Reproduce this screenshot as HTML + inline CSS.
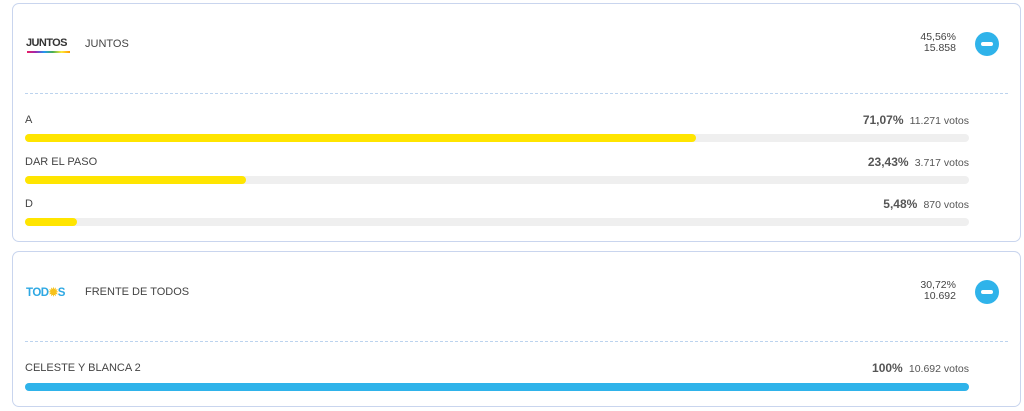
<!DOCTYPE html>
<html><head><style>
*{margin:0;padding:0;box-sizing:border-box}
body{width:1024px;height:411px;background:#fff;font-family:"Liberation Sans",sans-serif;color:#444;position:relative;overflow:hidden}
.card{position:absolute;left:12px;width:1009px;border:1px solid #c9d5ee;border-radius:7px;background:#fff}
.t{position:absolute;font-size:11px;white-space:nowrap}
.r{text-align:right}
.bar{position:absolute;left:12px;width:944px;height:8px;border-radius:4px;background:#efefef}
.bar div{height:8px;border-radius:4px}
.dash{position:absolute;left:12px;width:983px;border-top:1px dashed #bcd3ee}
.btn{position:absolute;width:24px;height:24px;border-radius:50%;background:#2fb3ea}
.btn:after{content:"";position:absolute;left:6px;top:10px;width:12px;height:4px;border-radius:2px;background:#fff}
.pct{font-size:12px;font-weight:bold;color:#555}
.vt{font-size:10.5px;color:#555}
</style></head><body>
<div class="card" style="top:3px;height:239px">
 <div class="t" style="left:13px;top:33px;font-weight:bold;font-size:11px;letter-spacing:-0.6px;color:#333">JUNTOS</div>
 <div style="position:absolute;left:14px;top:47px;width:43px;height:2px;background:linear-gradient(90deg,#e91e63,#9c27b0,#2196f3,#4caf50,#ffeb3b,#ff9800)"></div>
 <div class="t" style="left:72px;top:34px">JUNTOS</div>
 <div class="t r" style="right:64px;top:28px;line-height:11px;font-size:10.5px">45,56%<br>15.858</div>
 <div class="btn" style="left:962px;top:28px"></div>
 <div class="dash" style="top:89px"></div>
 <div class="t" style="left:12px;top:110px">A</div>
 <div class="t" style="right:51px;top:109px"><span class="pct">71,07%</span>&nbsp; <span class="vt">11.271 votos</span></div>
 <div class="bar" style="top:130px"><div style="width:671px;background:#ffe500"></div></div>
 <div class="t" style="left:12px;top:152px">DAR EL PASO</div>
 <div class="t" style="right:51px;top:151px"><span class="pct">23,43%</span>&nbsp; <span class="vt">3.717 votos</span></div>
 <div class="bar" style="top:172px"><div style="width:221px;background:#ffe500"></div></div>
 <div class="t" style="left:12px;top:194px">D</div>
 <div class="t" style="right:51px;top:193px"><span class="pct">5,48%</span>&nbsp; <span class="vt">870 votos</span></div>
 <div class="bar" style="top:214px"><div style="width:52px;background:#ffe500"></div></div>
</div>
<div class="card" style="top:251px;height:156px">
 <div class="t" style="left:13px;top:33px;font-weight:bold;font-size:11.5px;color:#2ea8e3;letter-spacing:-0.5px">TOD<span style="color:#f7c21b">✹</span>S</div>
 <div class="t" style="left:72px;top:34px">FRENTE DE TODOS</div>
 <div class="t r" style="right:64px;top:28px;line-height:11px;font-size:10.5px">30,72%<br>10.692</div>
 <div class="btn" style="left:962px;top:28px"></div>
 <div class="dash" style="top:89px"></div>
 <div class="t" style="left:12px;top:110px">CELESTE Y BLANCA 2</div>
 <div class="t" style="right:51px;top:109px"><span class="pct">100%</span>&nbsp; <span class="vt">10.692 votos</span></div>
 <div class="bar" style="top:131px"><div style="width:944px;background:#2fb3ea"></div></div>
</div>
</body></html>
